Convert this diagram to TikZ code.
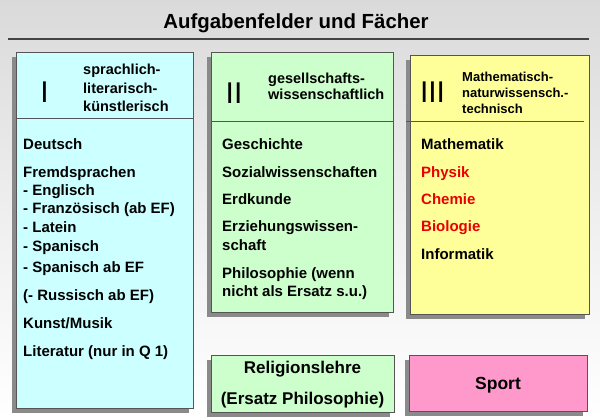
\documentclass[tikz,border=0pt]{standalone}
\usepackage{fontspec}
\setmainfont{Liberation Sans}
\usetikzlibrary{shadows}
\definecolor{bgtop}{HTML}{DADADA}
\definecolor{cyanbox}{HTML}{CCFFFF}
\definecolor{greenbox}{HTML}{CCFFCC}
\definecolor{yellowbox}{HTML}{FFFF99}
\definecolor{pinkbox}{HTML}{FF99CC}
\definecolor{shadowgray}{HTML}{8A8A8A}
\definecolor{edgegray}{HTML}{555555}
\definecolor{redtext}{HTML}{E80000}
\begin{document}
\begin{tikzpicture}[x=1pt,y=-1pt,
  panel/.style={draw=edgegray, line width=0.8pt, anchor=north west, inner sep=0pt,
    drop shadow={shadow xshift=-4pt, shadow yshift=-5pt, fill=shadowgray, opacity=1}},
  divider/.style={draw=edgegray, line width=0.8pt},
  item/.style={anchor=base west, inner sep=0pt, font=\fontsize{15}{17}\selectfont\bfseries},
  redItem/.style={item, text=redtext},
  head/.style={anchor=base west, inner sep=0pt, font=\fontsize{14.5}{17}\selectfont\bfseries},
  headsmall/.style={anchor=base west, inner sep=0pt, font=\fontsize{13}{16}\selectfont\bfseries},
  numeral/.style={anchor=center, inner sep=0pt, font=\fontsize{30}{30}\selectfont},
  bigitem/.style={anchor=base, inner sep=0pt, font=\fontsize{17}{20}\selectfont\bfseries}]
% background
\shade[top color=bgtop, bottom color=white, middle color=bgtop!45!white] (0,0) rectangle (600,420);
\useasboundingbox (0,0) rectangle (600,420);
% title
\node[anchor=base, inner sep=0pt, font=\fontsize{20.4}{24}\selectfont\bfseries] (title) at (296,29) {Aufgabenfelder und Fächer};
\draw[draw=edgegray!80!black, line width=1.4pt] (8,39) coordinate (rl) -- (589,39) coordinate (rr);
% panels
\node[panel, fill=cyanbox, minimum width=177pt, minimum height=356pt] (b1) at (16,52) {};
\node[panel, fill=greenbox, minimum width=182pt, minimum height=260pt] (b2) at (211,52) {};
\node[panel, fill=yellowbox, minimum width=179pt, minimum height=259pt] (b3) at (410,55) {};
\node[panel, fill=greenbox, minimum width=183pt, minimum height=57pt] (b4) at (211,355) {};
\node[panel, fill=pinkbox, minimum width=178pt, minimum height=56pt] (b5) at (409,355) {};
% dividers
\draw[divider] (16,118) -- (193,118);
\draw[divider] (211,121) -- (393,121);
\draw[divider] (406,121) -- (584,121);
% box I
\node[numeral] (n1) at (44.5,92) {I};
\node[head] (h1a) at (83,74.5) {sprachlich-};
\node[head] (h1b) at (83,93) {literarisch-};
\node[head] (h1c) at (83,111.5) {künstlerisch};
\node[item] (i1) at (23,149.5) {Deutsch};
\node[item] (i2) at (23,177.5) {Fremdsprachen};
\node[item] (i3) at (23,195.5) {- Englisch};
\node[item] (i4) at (23,213.5) {- Französisch (ab EF)};
\node[item] (i5) at (23,232) {- Latein};
\node[item] (i6) at (23,251.7) {- Spanisch};
\node[item] (i7) at (23,272.3) {- Spanisch ab EF};
\node[item] (i8) at (23,300.7) {(- Russisch ab EF)};
\node[item] (i9) at (23,328) {Kunst/Musik};
\node[item] (i10) at (23,356) {Literatur (nur in Q 1)};
% box II
\node[numeral] (n2) at (234,93) {II};
\node[head] (h2a) at (268,83.3) {gesellschafts-};
\node[head] (h2b) at (268,99.3) {wissenschaftlich};
\node[item] (j1) at (222,149.5) {Geschichte};
\node[item] (j2) at (222,177.3) {Sozialwissenschaften};
\node[item] (j3) at (222,204.3) {Erdkunde};
\node[item] (j4) at (222,231.7) {Erziehungswissen-};
\node[item] (j5) at (222,250.7) {schaft};
\node[item] (j6) at (222,278.3) {Philosophie (wenn};
\node[item] (j7) at (222,296) {nicht als Ersatz s.u.)};
% box III
\node[numeral] (n3) at (432.5,92) {III};
\node[headsmall] (h3a) at (462,81.7) {Mathematisch-};
\node[headsmall] (h3b) at (462,97.3) {naturwissensch.-};
\node[headsmall] (h3c) at (462,113.3) {technisch};
\node[item] (k1) at (421,149.5) {Mathematik};
\node[redItem] (k2) at (421,177.3) {Physik};
\node[redItem] (k3) at (421,204.3) {Chemie};
\node[redItem] (k4) at (421,231.7) {Biologie};
\node[item] (k5) at (421,259.3) {Informatik};
% bottom boxes
\node[bigitem] (r1) at (302.5,373.3) {Religionslehre};
\node[bigitem] (r2) at (302.5,404.3) {(Ersatz Philosophie)};
\node[bigitem, font=\fontsize{17.5}{20}\selectfont\bfseries] (s1) at (498,389.3) {Sport};
\end{tikzpicture}
\end{document}
